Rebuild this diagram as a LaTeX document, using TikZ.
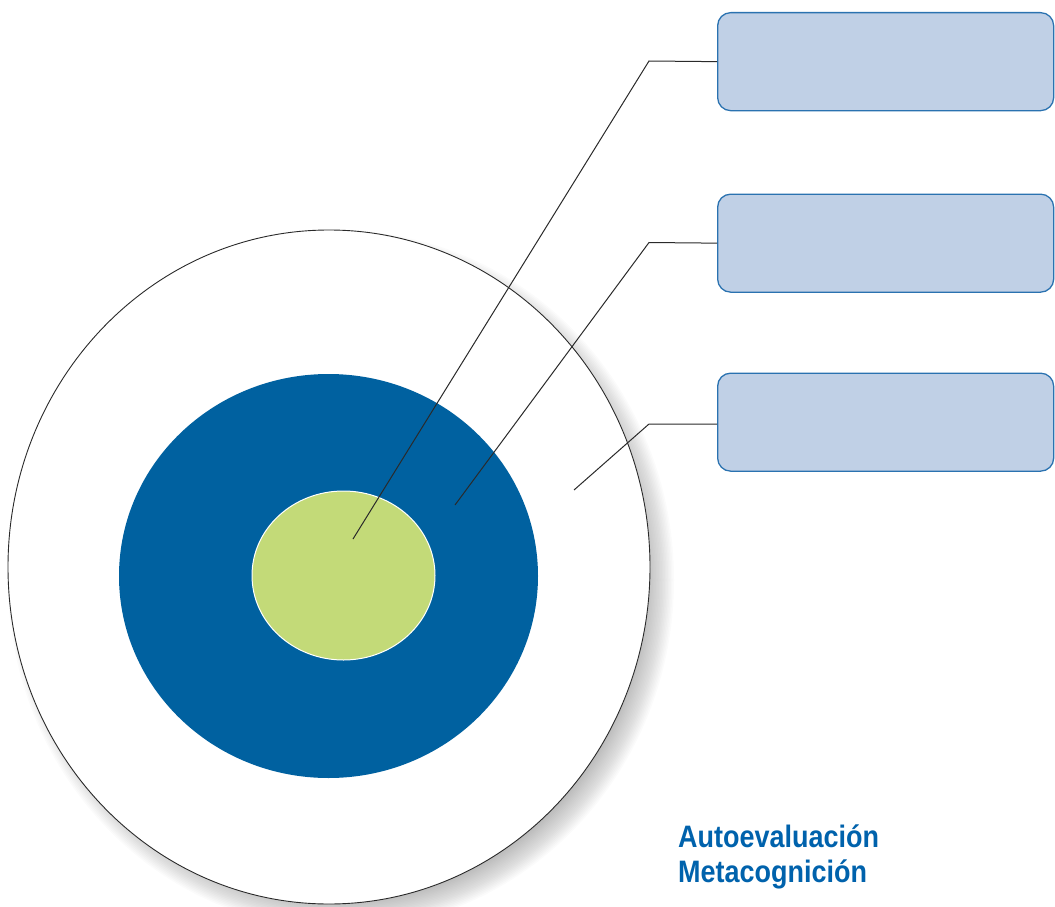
\documentclass[tikz,border=0pt]{standalone}
\usepackage{fontspec}
\newfontfamily\labelfont[FakeStretch=0.87]{Liberation Sans}
\definecolor{ringblue}{HTML}{0061A0}
\definecolor{coregreen}{HTML}{C3DA78}
\definecolor{boxfill}{HTML}{C0D0E6}
\definecolor{boxedge}{HTML}{2A72B0}
\definecolor{textblue}{HTML}{0062AC}
\definecolor{linegray}{HTML}{2A2A2A}
\tikzset{
  infobox/.style={draw=boxedge, line width=1.3pt, fill=boxfill, rounded corners=13pt,
    minimum width=336pt, minimum height=98pt, inner sep=0pt, anchor=north west},
  leader/.style={draw=linegray, line width=1pt},
  caption/.style={font=\labelfont\bfseries\fontsize{31}{35}\selectfont, text=textblue, anchor=base west, inner sep=0pt}
}
\begin{document}
\begin{tikzpicture}[x=1pt,y=-1pt]
\useasboundingbox (0,0) rectangle (1055,907);
% shadow of outer circle
\foreach \k in {0,...,19}{
  \fill[black, opacity=0.017] (341,580) ellipse ({333-\k*1.5} and {349-\k*1.5});
}
\fill[white] (329,567) ellipse (321 and 337);
\draw[linegray, line width=0.9pt] (329,567) ellipse (321 and 337);
% blue ring
\fill[ringblue] (328.5,576) ellipse (209.5 and 202);
% green core
\fill[coregreen, draw=white, line width=1pt] (343.5,575.5) ellipse (91.5 and 84.5);
% boxes
\node[infobox] (b1) at (717,12) {};
\node[infobox] (b2) at (717,193.5) {};
\node[infobox] (b3) at (717,372.5) {};
% leader lines
\coordinate (p1) at (353,539);
\coordinate (p2) at (455,505);
\coordinate (p3) at (574,490);
\coordinate (k1) at (649,61);
\coordinate (k2) at (649,242.5);
\coordinate (k3) at (649,424);
\draw[leader] (p1) -- (k1) -- (b1.west);
\draw[leader] (p2) -- (k2) -- (b2.west);
\draw[leader] (p3) -- (k3) -- (b3.west |- k3);
% captions
\node[caption] (t1) at (678,847) {Autoevaluación};
\node[caption] (t2) at (678,882) {Metacognición};
\end{tikzpicture}
\end{document}
